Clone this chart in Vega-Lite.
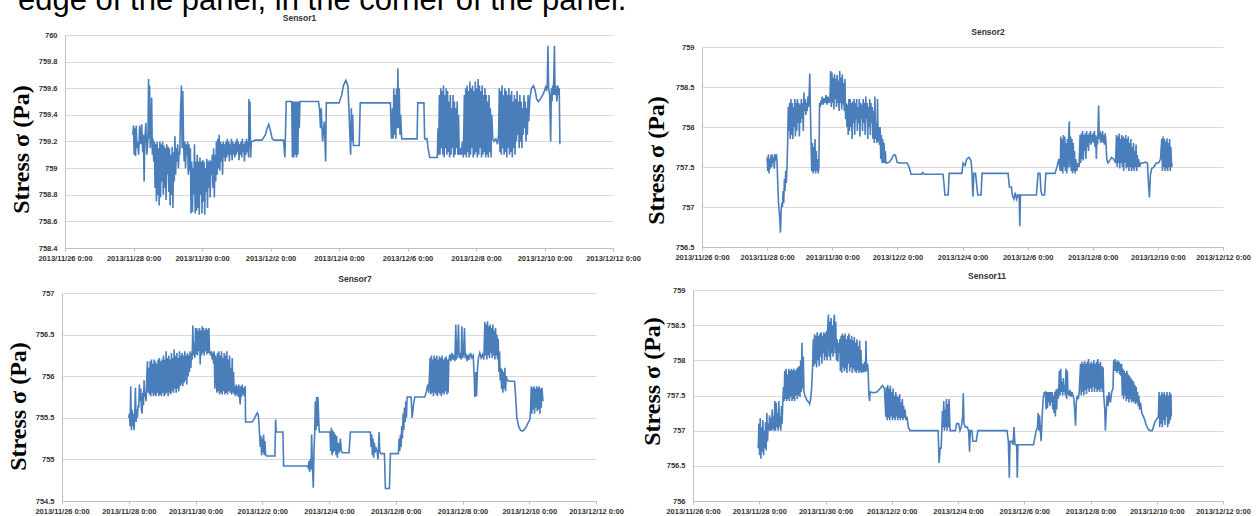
{
  "$schema": "https://vega.github.io/schema/vega-lite/v6.json",
  "background": "white",
  "padding": {"left": 6, "top": -16, "right": 0, "bottom": 0},
  "title": {"text": "edge of the panel, in the corner of the panel.", "anchor": "start", "frame": "bounds", "font": "Liberation Sans", "fontSize": 31, "fontWeight": "normal", "color": "#000000", "offset": -3, "dx": 12},
  "datasets": {
    "s1": [
      {"d":1.98,"v":759.25},{"d":2.00,"v":759.32},{"d":2.02,"v":759.10},{"d":2.04,"v":759.30},{"d":2.06,"v":759.09},{"d":2.08,"v":759.32},{"d":2.10,"v":759.15},{"d":2.12,"v":759.20},{"d":2.15,"v":759.10},{"d":2.18,"v":759.32},{"d":2.21,"v":759.18},{"d":2.24,"v":759.33},{"d":2.27,"v":759.12},{"d":2.29,"v":759.25},{"d":2.31,"v":758.90},{"d":2.33,"v":759.20},{"d":2.36,"v":759.34},{"d":2.39,"v":759.10},{"d":2.42,"v":759.20},{"d":2.44,"v":759.67},{"d":2.45,"v":759.22},{"d":2.47,"v":759.62},{"d":2.49,"v":759.15},{"d":2.51,"v":759.25},{"d":2.53,"v":759.53},{"d":2.55,"v":759.10},{"d":2.57,"v":759.22},{"d":2.59,"v":759.05},
      {"d":2.61,"v":759.20},{"d":2.63,"v":758.85},{"d":2.65,"v":759.18},{"d":2.67,"v":758.75},{"d":2.69,"v":759.20},{"d":2.71,"v":758.80},{"d":2.73,"v":759.15},{"d":2.75,"v":758.72},{"d":2.77,"v":759.20},{"d":2.79,"v":758.78},{"d":2.81,"v":759.18},{"d":2.83,"v":758.90},{"d":2.85,"v":759.20},{"d":2.87,"v":758.80},{"d":2.89,"v":759.17},{"d":2.91,"v":758.85},{"d":2.93,"v":759.15},{"d":2.95,"v":758.76},{"d":2.97,"v":759.18},{"d":2.99,"v":758.95},{"d":3.01,"v":759.16},{"d":3.03,"v":758.82},{"d":3.05,"v":759.15},{"d":3.07,"v":758.72},{"d":3.09,"v":759.10},{"d":3.11,"v":758.80},{"d":3.13,"v":759.16},{"d":3.15,"v":758.70},{"d":3.17,"v":759.12},{"d":3.19,"v":758.90},{"d":3.21,"v":759.24},{"d":3.23,"v":758.95},{"d":3.25,"v":759.15},{"d":3.27,"v":759.05},{"d":3.29,"v":759.18},{"d":3.31,"v":759.00},{"d":3.33,"v":759.12},{"d":3.35,"v":759.10},{"d":3.37,"v":759.40},{"d":3.40,"v":759.62},{"d":3.42,"v":759.15},{"d":3.44,"v":759.58},{"d":3.46,"v":759.20},
      {"d":3.48,"v":759.05},{"d":3.50,"v":759.20},{"d":3.52,"v":759.00},{"d":3.54,"v":759.18},{"d":3.56,"v":759.10},{"d":3.58,"v":759.20},{"d":3.60,"v":758.95},{"d":3.62,"v":759.18},{"d":3.64,"v":758.98},{"d":3.66,"v":759.15},
      {"d":3.68,"v":758.66},{"d":3.70,"v":759.05},{"d":3.72,"v":758.67},{"d":3.74,"v":759.00},{"d":3.76,"v":758.80},{"d":3.78,"v":759.18},{"d":3.80,"v":758.66},{"d":3.82,"v":759.05},{"d":3.84,"v":758.68},{"d":3.86,"v":759.10},{"d":3.88,"v":758.70},{"d":3.90,"v":759.05},{"d":3.92,"v":758.65},{"d":3.94,"v":759.08},{"d":3.96,"v":758.80},{"d":3.98,"v":759.05},{"d":4.00,"v":758.66},{"d":4.02,"v":759.06},{"d":4.04,"v":758.75},{"d":4.06,"v":759.05},{"d":4.08,"v":758.65},{"d":4.10,"v":759.00},{"d":4.12,"v":758.82},{"d":4.14,"v":759.07},{"d":4.16,"v":758.70},{"d":4.18,"v":759.05},{"d":4.20,"v":758.85},{"d":4.22,"v":759.06},{"d":4.24,"v":758.78},{"d":4.26,"v":759.05},{"d":4.28,"v":758.95},{"d":4.30,"v":759.10},{"d":4.32,"v":758.85},{"d":4.34,"v":759.15},{"d":4.36,"v":758.78},{"d":4.38,"v":759.10},{"d":4.40,"v":758.90},{"d":4.42,"v":759.20},{"d":4.44,"v":758.95},{"d":4.46,"v":759.22},{"d":4.48,"v":759.00},{"d":4.50,"v":759.25},{"d":4.52,"v":758.98},{"d":4.54,"v":759.20},{"d":4.56,"v":759.05},{"d":4.58,"v":759.18},{"d":4.60,"v":758.95},{"d":4.62,"v":759.20},{"d":4.64,"v":759.08},{"d":4.66,"v":759.18},{"d":4.68,"v":759.05},{"d":4.70,"v":759.20},{"d":4.72,"v":759.08},{"d":4.74,"v":759.22},{"d":4.76,"v":759.10},{"d":4.78,"v":759.20},{"d":4.80,"v":759.05},{"d":4.82,"v":759.18},{"d":4.84,"v":759.10},{"d":4.86,"v":759.22},{"d":4.88,"v":759.06},{"d":4.90,"v":759.20},{"d":4.92,"v":759.10},{"d":4.94,"v":759.18},{"d":4.96,"v":759.08},{"d":4.98,"v":759.20},{"d":5.00,"v":759.10},{"d":5.02,"v":759.22},{"d":5.04,"v":759.12},{"d":5.06,"v":759.20},{"d":5.08,"v":759.06},{"d":5.10,"v":759.18},{"d":5.12,"v":759.10},{"d":5.14,"v":759.20},{"d":5.16,"v":759.08},{"d":5.18,"v":759.22},{"d":5.20,"v":759.12},{"d":5.22,"v":759.18},{"d":5.24,"v":759.05},{"d":5.26,"v":759.20},{"d":5.28,"v":759.10},{"d":5.30,"v":759.22},{"d":5.32,"v":759.12},{"d":5.34,"v":759.20},{"d":5.36,"v":759.08},{"d":5.37,"v":759.52},{"d":5.38,"v":759.15},{"d":5.40,"v":759.50},{"d":5.42,"v":759.08},{"d":5.44,"v":759.20},{"d":5.47,"v":759.20},
      {"d":5.55,"v":759.21},{"d":5.75,"v":759.21},{"d":5.85,"v":759.25},{"d":5.90,"v":759.30},{"d":5.95,"v":759.33},{"d":6.00,"v":759.28},{"d":6.05,"v":759.22},{"d":6.10,"v":759.21},{"d":6.38,"v":759.21},{"d":6.42,"v":759.08},{"d":6.46,"v":759.50},{"d":6.62,"v":759.50},{"d":6.64,"v":759.08},{"d":6.66,"v":759.50},{"d":6.68,"v":759.08},{"d":6.70,"v":759.50},{"d":6.72,"v":759.10},{"d":6.74,"v":759.50},{"d":6.76,"v":759.08},{"d":6.78,"v":759.50},{"d":6.80,"v":759.10},{"d":6.82,"v":759.50},{"d":6.84,"v":759.30},{"d":6.86,"v":759.50},
      {"d":7.40,"v":759.50},{"d":7.43,"v":759.45},{"d":7.46,"v":759.30},{"d":7.48,"v":759.45},{"d":7.52,"v":759.20},{"d":7.57,"v":759.35},{"d":7.61,"v":759.05},{"d":7.63,"v":759.49},{"d":8.00,"v":759.49},{"d":8.08,"v":759.55},{"d":8.13,"v":759.62},{"d":8.20,"v":759.66},{"d":8.26,"v":759.62},{"d":8.29,"v":759.45},{"d":8.31,"v":759.30},{"d":8.34,"v":759.10},{"d":8.36,"v":759.45},{"d":8.38,"v":759.20},{"d":8.40,"v":759.40},{"d":8.42,"v":759.17},{"d":8.59,"v":759.17},{"d":8.62,"v":759.49},{"d":9.50,"v":759.49},{"d":9.53,"v":759.22},{"d":9.56,"v":759.45},{"d":9.58,"v":759.22},{"d":9.60,"v":759.60},{"d":9.62,"v":759.25},{"d":9.64,"v":759.55},{"d":9.66,"v":759.22},{"d":9.68,"v":759.60},{"d":9.70,"v":759.30},{"d":9.72,"v":759.75},{"d":9.74,"v":759.30},{"d":9.76,"v":759.60},{"d":9.78,"v":759.25},{"d":9.80,"v":759.40},{"d":9.83,"v":759.22},{"d":10.28,"v":759.22},{"d":10.30,"v":759.49},{"d":10.48,"v":759.49},{"d":10.50,"v":759.22},{"d":10.57,"v":759.22},{"d":10.60,"v":759.15},{"d":10.65,"v":759.08},{"d":10.87,"v":759.08},
      {"d":10.89,"v":759.30},{"d":10.91,"v":759.10},{"d":10.93,"v":759.55},{"d":10.95,"v":759.10},{"d":10.97,"v":759.60},{"d":10.99,"v":759.15},{"d":11.01,"v":759.58},{"d":11.03,"v":759.10},{"d":11.05,"v":759.62},{"d":11.07,"v":759.08},{"d":11.09,"v":759.55},{"d":11.11,"v":759.15},{"d":11.13,"v":759.60},{"d":11.15,"v":759.10},{"d":11.17,"v":759.58},{"d":11.19,"v":759.12},{"d":11.21,"v":759.50},{"d":11.23,"v":759.08},{"d":11.25,"v":759.55},{"d":11.27,"v":759.10},{"d":11.29,"v":759.45},{"d":11.31,"v":759.15},{"d":11.33,"v":759.55},{"d":11.35,"v":759.08},{"d":11.37,"v":759.50},{"d":11.39,"v":759.10},{"d":11.41,"v":759.45},{"d":11.43,"v":759.15},{"d":11.45,"v":759.50},{"d":11.47,"v":759.10},{"d":11.49,"v":759.40},{"d":11.51,"v":759.10},{"d":11.53,"v":759.15},{"d":11.57,"v":759.10},{"d":11.60,"v":759.20},{"d":11.63,"v":759.08},
      {"d":11.66,"v":759.55},{"d":11.68,"v":759.10},{"d":11.70,"v":759.60},{"d":11.72,"v":759.08},{"d":11.74,"v":759.62},{"d":11.76,"v":759.12},{"d":11.78,"v":759.58},{"d":11.80,"v":759.08},{"d":11.82,"v":759.65},{"d":11.84,"v":759.10},{"d":11.86,"v":759.60},{"d":11.88,"v":759.15},{"d":11.90,"v":759.62},{"d":11.92,"v":759.08},{"d":11.94,"v":759.58},{"d":11.96,"v":759.10},{"d":11.98,"v":759.65},{"d":12.00,"v":759.12},{"d":12.02,"v":759.60},{"d":12.04,"v":759.08},{"d":12.06,"v":759.67},{"d":12.08,"v":759.10},{"d":12.10,"v":759.62},{"d":12.12,"v":759.15},{"d":12.14,"v":759.58},{"d":12.16,"v":759.08},{"d":12.18,"v":759.62},{"d":12.20,"v":759.10},{"d":12.22,"v":759.55},{"d":12.24,"v":759.12},{"d":12.26,"v":759.60},{"d":12.28,"v":759.08},{"d":12.30,"v":759.55},{"d":12.32,"v":759.10},{"d":12.34,"v":759.50},{"d":12.36,"v":759.08},{"d":12.38,"v":759.55},{"d":12.40,"v":759.12},{"d":12.42,"v":759.45},{"d":12.44,"v":759.08},{"d":12.46,"v":759.40},{"d":12.49,"v":759.22},{"d":12.53,"v":759.20},{"d":12.58,"v":759.22},{"d":12.63,"v":759.18},{"d":12.66,"v":759.25},
      {"d":12.68,"v":759.60},{"d":12.70,"v":759.12},{"d":12.72,"v":759.58},{"d":12.74,"v":759.10},{"d":12.76,"v":759.62},{"d":12.78,"v":759.15},{"d":12.80,"v":759.55},{"d":12.82,"v":759.10},{"d":12.84,"v":759.60},{"d":12.86,"v":759.12},{"d":12.88,"v":759.58},{"d":12.90,"v":759.08},{"d":12.92,"v":759.55},{"d":12.94,"v":759.15},{"d":12.96,"v":759.60},{"d":12.98,"v":759.10},{"d":13.00,"v":759.55},{"d":13.02,"v":759.12},{"d":13.04,"v":759.58},{"d":13.06,"v":759.08},{"d":13.08,"v":759.50},{"d":13.10,"v":759.15},{"d":13.12,"v":759.55},{"d":13.14,"v":759.10},{"d":13.16,"v":759.52},{"d":13.18,"v":759.20},{"d":13.20,"v":759.58},{"d":13.22,"v":759.25},{"d":13.24,"v":759.50},{"d":13.26,"v":759.15},{"d":13.28,"v":759.55},{"d":13.30,"v":759.20},{"d":13.32,"v":759.50},{"d":13.34,"v":759.15},{"d":13.36,"v":759.45},{"d":13.38,"v":759.25},{"d":13.40,"v":759.55},{"d":13.42,"v":759.30},{"d":13.44,"v":759.50},{"d":13.46,"v":759.20},{"d":13.48,"v":759.45},{"d":13.50,"v":759.25},{"d":13.52,"v":759.55},{"d":13.54,"v":759.35},{"d":13.57,"v":759.52},{"d":13.62,"v":759.60},{"d":13.68,"v":759.62},{"d":13.73,"v":759.58},{"d":13.77,"v":759.52},{"d":13.82,"v":759.50},{"d":13.88,"v":759.52},{"d":13.95,"v":759.55},{"d":14.00,"v":759.58},{"d":14.04,"v":759.62},{"d":14.06,"v":759.58},{"d":14.08,"v":759.62},{"d":14.10,"v":759.92},{"d":14.12,"v":759.60},{"d":14.15,"v":759.55},{"d":14.18,"v":759.20},{"d":14.20,"v":759.60},{"d":14.22,"v":759.50},{"d":14.24,"v":759.62},{"d":14.26,"v":759.55},{"d":14.29,"v":759.92},{"d":14.31,"v":759.55},{"d":14.33,"v":759.62},{"d":14.36,"v":759.50},{"d":14.39,"v":759.62},{"d":14.41,"v":759.55},{"d":14.43,"v":759.60},{"d":14.45,"v":759.18}
    ],
    "s2": [
      {"d":2.00,"v":757.62},{"d":2.02,"v":757.45},{"d":2.04,"v":757.66},{"d":2.06,"v":757.42},{"d":2.08,"v":757.60},{"d":2.10,"v":757.48},{"d":2.12,"v":757.65},{"d":2.14,"v":757.50},{"d":2.16,"v":757.66},{"d":2.18,"v":757.55},{"d":2.20,"v":757.62},{"d":2.22,"v":757.48},{"d":2.24,"v":757.66},{"d":2.26,"v":757.58},{"d":2.29,"v":757.66},{"d":2.31,"v":757.50},{"d":2.33,"v":757.25},{"d":2.35,"v":757.05},{"d":2.38,"v":756.90},{"d":2.41,"v":756.68},{"d":2.43,"v":756.95},{"d":2.45,"v":757.05},{"d":2.47,"v":757.00},{"d":2.49,"v":757.20},{"d":2.51,"v":757.05},{"d":2.53,"v":757.35},{"d":2.55,"v":757.20},{"d":2.57,"v":757.45},{"d":2.59,"v":757.30},{"d":2.61,"v":757.50},{"d":2.63,"v":757.80},
      {"d":2.65,"v":758.25},{"d":2.67,"v":757.95},{"d":2.69,"v":758.30},{"d":2.71,"v":757.85},{"d":2.73,"v":758.35},{"d":2.75,"v":757.90},{"d":2.77,"v":758.30},{"d":2.79,"v":757.85},{"d":2.81,"v":758.25},{"d":2.83,"v":758.00},{"d":2.85,"v":758.35},{"d":2.87,"v":757.88},{"d":2.89,"v":758.30},{"d":2.91,"v":757.95},{"d":2.93,"v":758.35},{"d":2.95,"v":758.05},{"d":2.97,"v":758.30},{"d":2.99,"v":757.88},{"d":3.01,"v":758.28},{"d":3.03,"v":758.05},{"d":3.05,"v":758.35},{"d":3.07,"v":758.10},{"d":3.09,"v":758.30},{"d":3.11,"v":757.95},{"d":3.13,"v":758.43},{"d":3.15,"v":758.20},{"d":3.17,"v":758.35},{"d":3.19,"v":758.15},{"d":3.21,"v":758.30},{"d":3.23,"v":758.20},{"d":3.25,"v":758.38},{"d":3.27,"v":758.25},{"d":3.29,"v":758.40},{"d":3.31,"v":758.67},{"d":3.33,"v":758.20},
      {"d":3.35,"v":757.80},{"d":3.37,"v":757.45},{"d":3.39,"v":757.80},{"d":3.41,"v":757.42},{"d":3.43,"v":757.75},{"d":3.45,"v":757.45},{"d":3.47,"v":757.85},{"d":3.49,"v":757.42},{"d":3.51,"v":757.70},{"d":3.53,"v":757.45},{"d":3.55,"v":757.60},{"d":3.57,"v":757.42},{"d":3.59,"v":757.50},
      {"d":3.61,"v":758.30},{"d":3.63,"v":758.25},{"d":3.65,"v":758.33},{"d":3.67,"v":758.28},{"d":3.69,"v":758.38},{"d":3.72,"v":758.28},{"d":3.75,"v":758.36},{"d":3.78,"v":758.30},{"d":3.81,"v":758.40},{"d":3.84,"v":758.28},{"d":3.87,"v":758.38},{"d":3.90,"v":758.30},{"d":3.93,"v":758.35},{"d":3.95,"v":758.70},{"d":3.97,"v":758.25},{"d":3.99,"v":758.68},{"d":4.01,"v":758.30},{"d":4.03,"v":758.62},{"d":4.05,"v":758.22},{"d":4.07,"v":758.66},{"d":4.09,"v":758.35},{"d":4.11,"v":758.60},{"d":4.13,"v":758.25},{"d":4.15,"v":758.65},{"d":4.17,"v":758.30},{"d":4.19,"v":758.58},{"d":4.21,"v":758.20},{"d":4.23,"v":758.70},{"d":4.25,"v":758.30},{"d":4.27,"v":758.62},{"d":4.29,"v":758.22},{"d":4.31,"v":758.66},{"d":4.33,"v":758.28},{"d":4.35,"v":758.55},{"d":4.37,"v":758.20},{"d":4.39,"v":758.60},{"d":4.41,"v":758.10},{"d":4.43,"v":758.30},
      {"d":4.45,"v":758.00},{"d":4.47,"v":758.28},{"d":4.49,"v":757.90},{"d":4.51,"v":758.35},{"d":4.53,"v":757.95},{"d":4.55,"v":758.35},{"d":4.57,"v":758.00},{"d":4.59,"v":758.30},{"d":4.61,"v":757.85},{"d":4.63,"v":758.32},{"d":4.65,"v":758.05},{"d":4.67,"v":758.35},{"d":4.69,"v":757.90},{"d":4.71,"v":758.30},{"d":4.73,"v":758.10},{"d":4.75,"v":758.35},{"d":4.77,"v":757.95},{"d":4.79,"v":758.25},{"d":4.81,"v":758.05},{"d":4.83,"v":758.35},{"d":4.85,"v":757.88},{"d":4.87,"v":758.30},{"d":4.89,"v":758.10},{"d":4.91,"v":758.28},{"d":4.93,"v":757.95},{"d":4.95,"v":758.35},{"d":4.97,"v":758.05},{"d":4.99,"v":758.30},{"d":5.01,"v":757.90},{"d":5.03,"v":758.38},{"d":5.05,"v":758.10},{"d":5.07,"v":758.30},{"d":5.09,"v":757.85},{"d":5.11,"v":758.25},{"d":5.13,"v":758.00},{"d":5.15,"v":758.35},{"d":5.17,"v":757.90},{"d":5.19,"v":758.30},{"d":5.21,"v":758.05},{"d":5.23,"v":758.25},{"d":5.25,"v":757.85},{"d":5.27,"v":758.20},{"d":5.29,"v":757.80},{"d":5.31,"v":758.38},{"d":5.33,"v":757.85},{"d":5.35,"v":758.05},{"d":5.37,"v":757.80},{"d":5.39,"v":758.35},{"d":5.41,"v":757.82},{"d":5.43,"v":758.00},{"d":5.45,"v":757.78},{"d":5.47,"v":758.00},{"d":5.49,"v":757.60},{"d":5.51,"v":757.90},{"d":5.53,"v":757.55},{"d":5.55,"v":757.85},{"d":5.57,"v":757.55},{"d":5.59,"v":757.80},{"d":5.61,"v":757.55},{"d":5.63,"v":757.70},{"d":5.65,"v":757.55},
      {"d":5.68,"v":757.55},{"d":5.75,"v":757.56},{"d":5.82,"v":757.60},{"d":5.88,"v":757.65},{"d":5.94,"v":757.65},{"d":5.99,"v":757.56},{"d":6.05,"v":757.55},{"d":6.30,"v":757.55},{"d":6.36,"v":757.50},{"d":6.42,"v":757.41},{"d":6.75,"v":757.41},{"d":6.78,"v":757.43},{"d":6.82,"v":757.41},{"d":7.40,"v":757.41},{"d":7.43,"v":757.30},{"d":7.46,"v":757.15},{"d":7.56,"v":757.15},{"d":7.59,"v":757.42},{"d":7.98,"v":757.42},{"d":8.02,"v":757.55},{"d":8.08,"v":757.52},{"d":8.13,"v":757.60},{"d":8.20,"v":757.62},{"d":8.26,"v":757.58},{"d":8.29,"v":757.45},{"d":8.32,"v":757.13},{"d":8.35,"v":757.42},{"d":8.40,"v":757.42},{"d":8.43,"v":757.30},{"d":8.47,"v":757.15},{"d":8.57,"v":757.15},{"d":8.60,"v":757.42},{"d":9.40,"v":757.42},{"d":9.44,"v":757.25},{"d":9.50,"v":757.25},{"d":9.53,"v":757.15},{"d":9.58,"v":757.10},{"d":9.62,"v":757.18},{"d":9.66,"v":757.10},{"d":9.70,"v":757.15},{"d":9.74,"v":757.15},{"d":9.76,"v":756.76},{"d":9.78,"v":757.15},{"d":10.27,"v":757.15},{"d":10.32,"v":757.42},{"d":10.38,"v":757.42},{"d":10.41,"v":757.20},{"d":10.44,"v":757.15},{"d":10.52,"v":757.15},{"d":10.56,"v":757.42},{"d":10.84,"v":757.42},{"d":10.90,"v":757.50},{"d":10.96,"v":757.60},
      {"d":11.00,"v":757.45},{"d":11.02,"v":757.88},{"d":11.04,"v":757.45},{"d":11.06,"v":757.85},{"d":11.08,"v":757.42},{"d":11.10,"v":757.90},{"d":11.12,"v":757.50},{"d":11.14,"v":757.88},{"d":11.16,"v":757.45},{"d":11.18,"v":757.80},{"d":11.20,"v":757.42},{"d":11.22,"v":757.85},{"d":11.24,"v":757.48},{"d":11.26,"v":757.90},{"d":11.28,"v":758.07},{"d":11.30,"v":757.50},{"d":11.32,"v":757.88},{"d":11.34,"v":757.45},{"d":11.36,"v":757.85},{"d":11.38,"v":757.42},{"d":11.40,"v":757.80},{"d":11.42,"v":757.45},{"d":11.44,"v":757.70},{"d":11.46,"v":757.42},{"d":11.48,"v":757.60},{"d":11.51,"v":757.45},{"d":11.54,"v":757.55},{"d":11.58,"v":757.50},
      {"d":11.61,"v":757.90},{"d":11.63,"v":757.55},{"d":11.65,"v":757.92},{"d":11.67,"v":757.60},{"d":11.69,"v":757.95},{"d":11.71,"v":757.58},{"d":11.73,"v":757.90},{"d":11.75,"v":757.70},{"d":11.77,"v":757.92},{"d":11.79,"v":757.60},{"d":11.81,"v":757.95},{"d":11.83,"v":757.75},{"d":11.85,"v":757.90},{"d":11.87,"v":757.70},{"d":11.89,"v":757.92},{"d":11.91,"v":757.80},{"d":11.93,"v":757.95},{"d":11.95,"v":757.78},{"d":11.97,"v":757.90},{"d":11.99,"v":757.82},{"d":12.01,"v":757.92},{"d":12.03,"v":757.80},{"d":12.05,"v":757.95},{"d":12.07,"v":757.75},{"d":12.09,"v":757.90},{"d":12.11,"v":757.60},{"d":12.13,"v":757.88},{"d":12.15,"v":757.78},{"d":12.18,"v":758.27},{"d":12.20,"v":757.85},{"d":12.22,"v":757.95},{"d":12.24,"v":757.80},{"d":12.26,"v":757.92},{"d":12.28,"v":757.82},{"d":12.30,"v":757.95},{"d":12.32,"v":757.80},{"d":12.34,"v":757.90},{"d":12.36,"v":757.78},{"d":12.38,"v":757.92},{"d":12.40,"v":757.85},{"d":12.43,"v":757.60},{"d":12.47,"v":757.55},{"d":12.52,"v":757.58},{"d":12.58,"v":757.62},{"d":12.64,"v":757.60},{"d":12.70,"v":757.55},
      {"d":12.73,"v":757.90},{"d":12.75,"v":757.50},{"d":12.77,"v":757.88},{"d":12.79,"v":757.55},{"d":12.81,"v":757.92},{"d":12.83,"v":757.48},{"d":12.85,"v":757.85},{"d":12.87,"v":757.55},{"d":12.89,"v":757.90},{"d":12.91,"v":757.50},{"d":12.93,"v":757.88},{"d":12.95,"v":757.45},{"d":12.97,"v":757.86},{"d":12.99,"v":757.55},{"d":13.01,"v":757.90},{"d":13.03,"v":757.48},{"d":13.05,"v":757.85},{"d":13.07,"v":757.50},{"d":13.09,"v":757.88},{"d":13.11,"v":757.45},{"d":13.13,"v":757.80},{"d":13.15,"v":757.50},{"d":13.17,"v":757.85},{"d":13.19,"v":757.45},{"d":13.21,"v":757.75},{"d":13.23,"v":757.48},{"d":13.25,"v":757.80},{"d":13.27,"v":757.45},{"d":13.29,"v":757.70},{"d":13.31,"v":757.50},{"d":13.33,"v":757.78},{"d":13.35,"v":757.45},{"d":13.37,"v":757.65},{"d":13.39,"v":757.50},{"d":13.41,"v":757.60},{"d":13.44,"v":757.50},{"d":13.48,"v":757.55},{"d":13.55,"v":757.55},{"d":13.62,"v":757.56},{"d":13.68,"v":757.55},{"d":13.71,"v":757.30},{"d":13.74,"v":757.12},{"d":13.77,"v":757.40},{"d":13.81,"v":757.48},{"d":13.88,"v":757.50},{"d":13.95,"v":757.55},{"d":14.02,"v":757.55},{"d":14.08,"v":757.60},
      {"d":14.12,"v":757.85},{"d":14.14,"v":757.45},{"d":14.16,"v":757.88},{"d":14.18,"v":757.50},{"d":14.20,"v":757.85},{"d":14.22,"v":757.45},{"d":14.24,"v":757.82},{"d":14.26,"v":757.48},{"d":14.28,"v":757.86},{"d":14.30,"v":757.45},{"d":14.32,"v":757.80},{"d":14.34,"v":757.50},{"d":14.36,"v":757.85},{"d":14.38,"v":757.45},{"d":14.40,"v":757.75},{"d":14.42,"v":757.50},{"d":14.44,"v":757.55}
    ],
    "s7": [
      {"d":2.00,"v":755.50},{"d":2.02,"v":755.55},{"d":2.04,"v":755.40},{"d":2.06,"v":755.88},{"d":2.08,"v":755.35},{"d":2.10,"v":755.60},{"d":2.12,"v":755.40},{"d":2.14,"v":755.55},{"d":2.16,"v":755.35},{"d":2.18,"v":755.58},{"d":2.20,"v":755.86},{"d":2.22,"v":755.45},{"d":2.24,"v":755.60},{"d":2.26,"v":755.50},{"d":2.28,"v":755.65},{"d":2.30,"v":755.62},{"d":2.32,"v":755.90},{"d":2.34,"v":755.70},{"d":2.36,"v":755.85},{"d":2.38,"v":755.60},{"d":2.40,"v":755.55},{"d":2.42,"v":755.80},{"d":2.44,"v":755.65},{"d":2.46,"v":755.95},{"d":2.48,"v":755.75},{"d":2.50,"v":755.80},{"d":2.52,"v":755.70},{"d":2.54,"v":755.98},{"d":2.56,"v":756.18},{"d":2.58,"v":755.80},{"d":2.60,"v":756.10},
      {"d":2.62,"v":755.78},{"d":2.64,"v":756.18},{"d":2.66,"v":755.76},{"d":2.68,"v":756.20},{"d":2.70,"v":755.80},{"d":2.72,"v":756.15},{"d":2.74,"v":755.76},{"d":2.76,"v":756.20},{"d":2.78,"v":755.78},{"d":2.80,"v":756.18},{"d":2.82,"v":755.76},{"d":2.84,"v":756.15},{"d":2.86,"v":755.80},{"d":2.88,"v":756.20},{"d":2.90,"v":755.76},{"d":2.92,"v":756.22},{"d":2.94,"v":755.78},{"d":2.96,"v":756.18},{"d":2.98,"v":755.76},{"d":3.00,"v":756.20},{"d":3.02,"v":755.80},{"d":3.04,"v":756.25},{"d":3.06,"v":755.76},{"d":3.08,"v":756.20},{"d":3.10,"v":755.78},{"d":3.12,"v":756.30},{"d":3.14,"v":755.80},{"d":3.16,"v":756.22},{"d":3.18,"v":755.76},{"d":3.20,"v":756.25},{"d":3.22,"v":755.80},{"d":3.24,"v":756.20},{"d":3.26,"v":755.78},{"d":3.28,"v":756.28},{"d":3.30,"v":755.82},{"d":3.32,"v":756.22},{"d":3.34,"v":755.80},{"d":3.36,"v":756.32},{"d":3.38,"v":755.85},{"d":3.40,"v":756.25},{"d":3.42,"v":755.80},{"d":3.44,"v":756.28},{"d":3.46,"v":755.85},{"d":3.48,"v":756.22},{"d":3.50,"v":755.82},{"d":3.52,"v":756.30},{"d":3.54,"v":755.88},{"d":3.56,"v":756.25},{"d":3.58,"v":755.90},{"d":3.60,"v":756.28},{"d":3.62,"v":755.88},{"d":3.64,"v":756.25},{"d":3.66,"v":755.92},{"d":3.68,"v":756.30},{"d":3.70,"v":755.95},{"d":3.72,"v":756.25},{"d":3.74,"v":755.90},{"d":3.76,"v":756.28},{"d":3.78,"v":756.00},{"d":3.80,"v":756.25},{"d":3.82,"v":756.05},{"d":3.84,"v":756.30},{"d":3.86,"v":756.10},{"d":3.88,"v":756.28},{"d":3.90,"v":756.20},
      {"d":3.92,"v":756.61},{"d":3.94,"v":756.25},{"d":3.96,"v":756.40},{"d":3.98,"v":756.22},{"d":4.00,"v":756.58},{"d":4.02,"v":756.26},{"d":4.04,"v":756.58},{"d":4.06,"v":756.25},{"d":4.08,"v":756.55},{"d":4.10,"v":756.30},{"d":4.12,"v":756.58},{"d":4.14,"v":756.14},{"d":4.16,"v":756.55},{"d":4.18,"v":756.25},{"d":4.20,"v":756.60},{"d":4.22,"v":756.28},{"d":4.24,"v":756.58},{"d":4.26,"v":756.25},{"d":4.28,"v":756.55},{"d":4.30,"v":756.30},{"d":4.32,"v":756.58},{"d":4.34,"v":756.26},{"d":4.36,"v":756.56},{"d":4.38,"v":756.28},{"d":4.40,"v":756.58},{"d":4.42,"v":756.30},{"d":4.45,"v":756.25},{"d":4.48,"v":756.30},{"d":4.50,"v":756.20},{"d":4.52,"v":756.28},{"d":4.54,"v":756.15},{"d":4.56,"v":756.30},{"d":4.58,"v":755.85},{"d":4.60,"v":756.25},{"d":4.62,"v":756.15},
      {"d":4.64,"v":755.80},{"d":4.66,"v":756.28},{"d":4.68,"v":755.82},{"d":4.70,"v":756.30},{"d":4.72,"v":755.78},{"d":4.74,"v":756.25},{"d":4.76,"v":755.80},{"d":4.78,"v":756.30},{"d":4.80,"v":755.78},{"d":4.82,"v":756.22},{"d":4.84,"v":755.82},{"d":4.86,"v":756.28},{"d":4.88,"v":755.78},{"d":4.90,"v":756.25},{"d":4.92,"v":755.80},{"d":4.94,"v":756.30},{"d":4.96,"v":755.78},{"d":4.98,"v":756.20},{"d":5.00,"v":755.82},{"d":5.02,"v":756.25},{"d":5.04,"v":755.80},{"d":5.06,"v":756.10},{"d":5.08,"v":755.78},{"d":5.10,"v":756.22},{"d":5.12,"v":755.80},{"d":5.14,"v":756.05},{"d":5.16,"v":755.78},{"d":5.18,"v":755.88},{"d":5.20,"v":755.76},{"d":5.22,"v":755.90},{"d":5.24,"v":755.78},{"d":5.26,"v":755.88},{"d":5.28,"v":755.75},{"d":5.30,"v":755.90},{"d":5.32,"v":755.76},{"d":5.34,"v":755.66},{"d":5.36,"v":755.88},{"d":5.38,"v":755.75},{"d":5.40,"v":755.90},{"d":5.42,"v":755.78},{"d":5.44,"v":755.86},{"d":5.46,"v":755.76},{"d":5.49,"v":755.88},
      {"d":5.50,"v":755.45},{"d":5.70,"v":755.45},{"d":5.75,"v":755.48},{"d":5.80,"v":755.52},{"d":5.85,"v":755.56},{"d":5.88,"v":755.54},{"d":5.90,"v":755.45},{"d":5.92,"v":755.30},{"d":5.94,"v":755.15},{"d":5.96,"v":755.28},{"d":5.98,"v":755.05},{"d":6.00,"v":755.25},{"d":6.02,"v":755.08},{"d":6.04,"v":755.30},{"d":6.06,"v":755.05},{"d":6.08,"v":755.22},{"d":6.10,"v":755.06},{"d":6.13,"v":755.04},{"d":6.38,"v":755.04},{"d":6.40,"v":755.48},{"d":6.42,"v":755.33},{"d":6.62,"v":755.33},{"d":6.64,"v":754.92},{"d":7.35,"v":754.92},{"d":7.38,"v":754.90},{"d":7.40,"v":754.98},{"d":7.42,"v":754.85},{"d":7.44,"v":755.00},{"d":7.46,"v":754.88},{"d":7.48,"v":755.30},{"d":7.50,"v":754.95},{"d":7.53,"v":754.66},{"d":7.55,"v":755.10},{"d":7.57,"v":755.30},{"d":7.59,"v":755.70},{"d":7.61,"v":755.35},{"d":7.63,"v":755.75},{"d":7.65,"v":755.40},{"d":7.67,"v":755.75},{"d":7.69,"v":755.50},{"d":7.71,"v":755.33},{"d":8.03,"v":755.33},
      {"d":8.05,"v":755.10},{"d":8.07,"v":755.38},{"d":8.09,"v":755.05},{"d":8.11,"v":755.35},{"d":8.13,"v":755.08},{"d":8.15,"v":755.33},{"d":8.17,"v":755.10},{"d":8.19,"v":755.30},{"d":8.21,"v":755.05},{"d":8.23,"v":755.28},{"d":8.25,"v":755.02},{"d":8.28,"v":755.20},{"d":8.31,"v":755.08},{"d":8.34,"v":755.25},{"d":8.37,"v":755.10},{"d":8.40,"v":755.08},{"d":8.60,"v":755.08},{"d":8.64,"v":755.33},{"d":9.24,"v":755.33},{"d":9.26,"v":755.15},{"d":9.28,"v":755.30},{"d":9.30,"v":755.05},{"d":9.32,"v":755.25},{"d":9.34,"v":755.02},{"d":9.36,"v":755.20},{"d":9.38,"v":755.08},{"d":9.40,"v":755.15},{"d":9.44,"v":755.10},{"d":9.47,"v":755.00},{"d":9.50,"v":755.33},{"d":9.52,"v":755.10},{"d":9.55,"v":755.07},{"d":9.66,"v":755.07},{"d":9.69,"v":754.65},{"d":9.81,"v":754.65},{"d":9.84,"v":755.07},{"d":10.08,"v":755.07},
      {"d":10.10,"v":755.25},{"d":10.12,"v":755.10},{"d":10.14,"v":755.30},{"d":10.16,"v":755.15},{"d":10.18,"v":755.40},{"d":10.20,"v":755.25},{"d":10.22,"v":755.55},{"d":10.24,"v":755.35},{"d":10.26,"v":755.62},{"d":10.28,"v":755.45},{"d":10.30,"v":755.70},{"d":10.32,"v":755.50},{"d":10.34,"v":755.75},{"d":10.46,"v":755.75},{"d":10.49,"v":755.50},{"d":10.53,"v":755.65},{"d":10.57,"v":755.75},{"d":10.87,"v":755.75},{"d":10.92,"v":755.82},{"d":10.96,"v":755.90},{"d":10.99,"v":755.80},
      {"d":11.03,"v":756.22},{"d":11.05,"v":755.78},{"d":11.07,"v":756.25},{"d":11.09,"v":755.80},{"d":11.11,"v":756.20},{"d":11.13,"v":755.76},{"d":11.15,"v":756.25},{"d":11.17,"v":755.80},{"d":11.19,"v":756.22},{"d":11.21,"v":755.78},{"d":11.23,"v":756.25},{"d":11.25,"v":755.76},{"d":11.27,"v":756.20},{"d":11.29,"v":755.80},{"d":11.31,"v":756.24},{"d":11.33,"v":755.78},{"d":11.35,"v":756.22},{"d":11.37,"v":755.76},{"d":11.39,"v":756.25},{"d":11.41,"v":755.80},{"d":11.43,"v":756.20},{"d":11.45,"v":755.78},{"d":11.47,"v":756.22},{"d":11.49,"v":755.82},{"d":11.51,"v":756.24},{"d":11.53,"v":755.78},{"d":11.55,"v":756.20},{"d":11.57,"v":755.80},{"d":11.59,"v":756.18},
      {"d":11.62,"v":756.26},{"d":11.65,"v":756.18},{"d":11.68,"v":756.28},{"d":11.71,"v":756.20},{"d":11.74,"v":756.26},{"d":11.77,"v":756.18},{"d":11.80,"v":756.62},{"d":11.82,"v":756.20},{"d":11.85,"v":756.28},{"d":11.88,"v":756.62},{"d":11.90,"v":756.22},{"d":11.93,"v":756.28},{"d":11.96,"v":756.20},{"d":11.98,"v":756.60},{"d":12.00,"v":756.22},{"d":12.03,"v":756.26},{"d":12.06,"v":756.58},{"d":12.08,"v":756.22},{"d":12.11,"v":756.25},{"d":12.14,"v":756.18},{"d":12.17,"v":756.26},{"d":12.20,"v":756.20},{"d":12.24,"v":756.28},{"d":12.28,"v":756.22},{"d":12.32,"v":756.25},{"d":12.35,"v":756.00},{"d":12.37,"v":755.75},{"d":12.40,"v":756.05},{"d":12.42,"v":755.76},{"d":12.45,"v":756.10},{"d":12.48,"v":756.22},{"d":12.52,"v":756.28},{"d":12.56,"v":756.22},{"d":12.60,"v":756.26},{"d":12.64,"v":756.20},
      {"d":12.67,"v":756.65},{"d":12.69,"v":756.25},{"d":12.71,"v":756.62},{"d":12.73,"v":756.20},{"d":12.75,"v":756.66},{"d":12.77,"v":756.25},{"d":12.79,"v":756.60},{"d":12.81,"v":756.22},{"d":12.83,"v":756.62},{"d":12.85,"v":756.28},{"d":12.87,"v":756.58},{"d":12.89,"v":756.22},{"d":12.91,"v":756.62},{"d":12.93,"v":756.25},{"d":12.95,"v":756.55},{"d":12.97,"v":756.20},{"d":12.99,"v":756.58},{"d":13.01,"v":756.25},{"d":13.03,"v":756.50},{"d":13.05,"v":756.20},{"d":13.07,"v":756.45},{"d":13.09,"v":756.05},{"d":13.11,"v":756.30},{"d":13.13,"v":755.95},{"d":13.15,"v":756.10},{"d":13.17,"v":755.85},{"d":13.19,"v":756.08},{"d":13.21,"v":755.80},{"d":13.23,"v":756.05},{"d":13.25,"v":755.85},{"d":13.27,"v":756.10},{"d":13.29,"v":755.82},{"d":13.31,"v":756.00},{"d":13.34,"v":755.95},{"d":13.42,"v":755.94},{"d":13.56,"v":755.94},{"d":13.60,"v":755.70},{"d":13.63,"v":755.50},{"d":13.68,"v":755.40},{"d":13.74,"v":755.35},{"d":13.80,"v":755.34},{"d":13.86,"v":755.36},{"d":13.92,"v":755.40},{"d":13.98,"v":755.45},{"d":14.02,"v":755.48},{"d":14.04,"v":755.60},
      {"d":14.06,"v":755.88},{"d":14.08,"v":755.55},{"d":14.10,"v":755.86},{"d":14.12,"v":755.60},{"d":14.14,"v":755.88},{"d":14.16,"v":755.55},{"d":14.18,"v":755.85},{"d":14.20,"v":755.62},{"d":14.22,"v":755.88},{"d":14.24,"v":755.58},{"d":14.26,"v":755.86},{"d":14.28,"v":755.60},{"d":14.30,"v":755.88},{"d":14.32,"v":755.55},{"d":14.34,"v":755.85},{"d":14.36,"v":755.62},{"d":14.38,"v":755.86},{"d":14.41,"v":755.70}
    ],
    "s11": [
      {"d":1.97,"v":756.75},{"d":1.99,"v":757.10},{"d":2.01,"v":756.65},{"d":2.03,"v":757.18},{"d":2.05,"v":756.60},{"d":2.07,"v":757.05},{"d":2.09,"v":756.70},{"d":2.11,"v":757.15},{"d":2.13,"v":756.65},{"d":2.15,"v":757.00},{"d":2.17,"v":756.75},{"d":2.19,"v":757.12},{"d":2.21,"v":756.72},{"d":2.23,"v":757.25},{"d":2.25,"v":756.85},{"d":2.27,"v":757.10},{"d":2.29,"v":757.00},{"d":2.31,"v":757.22},{"d":2.33,"v":757.00},{"d":2.35,"v":757.18},{"d":2.37,"v":757.00},{"d":2.39,"v":757.30},{"d":2.41,"v":757.02},{"d":2.43,"v":757.20},{"d":2.45,"v":757.00},{"d":2.47,"v":757.42},{"d":2.49,"v":757.00},{"d":2.51,"v":757.40},{"d":2.53,"v":757.05},{"d":2.55,"v":757.25},{"d":2.57,"v":757.00},{"d":2.59,"v":757.42},{"d":2.61,"v":757.05},{"d":2.63,"v":757.20},{"d":2.65,"v":757.00},{"d":2.67,"v":757.35},{"d":2.69,"v":757.10},{"d":2.71,"v":757.40},{"d":2.73,"v":757.62},
      {"d":2.75,"v":757.42},{"d":2.77,"v":757.85},{"d":2.79,"v":757.45},{"d":2.81,"v":757.88},{"d":2.83,"v":757.42},{"d":2.85,"v":757.80},{"d":2.87,"v":757.45},{"d":2.89,"v":757.88},{"d":2.91,"v":757.42},{"d":2.93,"v":757.85},{"d":2.95,"v":757.48},{"d":2.97,"v":757.88},{"d":2.99,"v":757.42},{"d":3.01,"v":757.86},{"d":3.03,"v":757.45},{"d":3.05,"v":757.88},{"d":3.07,"v":757.42},{"d":3.09,"v":757.85},{"d":3.11,"v":757.50},{"d":3.13,"v":757.88},{"d":3.15,"v":757.45},{"d":3.17,"v":757.90},{"d":3.19,"v":757.50},{"d":3.21,"v":757.92},{"d":3.23,"v":757.48},{"d":3.25,"v":758.00},{"d":3.27,"v":757.55},{"d":3.29,"v":758.25},{"d":3.31,"v":757.60},{"d":3.33,"v":758.05},{"d":3.35,"v":757.55},{"d":3.38,"v":757.50},{"d":3.42,"v":757.45},{"d":3.46,"v":757.42},{"d":3.50,"v":757.40},{"d":3.52,"v":757.38},{"d":3.55,"v":757.45},{"d":3.58,"v":757.60},
      {"d":3.61,"v":757.90},{"d":3.63,"v":758.30},{"d":3.65,"v":757.92},{"d":3.67,"v":758.37},{"d":3.69,"v":757.95},{"d":3.71,"v":758.35},{"d":3.73,"v":757.90},{"d":3.75,"v":758.40},{"d":3.77,"v":758.00},{"d":3.79,"v":758.35},{"d":3.81,"v":757.92},{"d":3.83,"v":758.38},{"d":3.85,"v":758.05},{"d":3.87,"v":758.40},{"d":3.89,"v":757.95},{"d":3.91,"v":758.35},{"d":3.93,"v":758.10},{"d":3.95,"v":758.40},{"d":3.97,"v":758.00},{"d":3.99,"v":758.38},{"d":4.01,"v":758.05},{"d":4.03,"v":758.42},{"d":4.05,"v":758.00},{"d":4.07,"v":758.50},{"d":4.09,"v":758.65},{"d":4.11,"v":758.05},{"d":4.13,"v":758.55},{"d":4.15,"v":758.00},{"d":4.17,"v":758.60},{"d":4.19,"v":758.10},{"d":4.21,"v":758.50},{"d":4.23,"v":758.05},{"d":4.25,"v":758.55},{"d":4.27,"v":758.65},{"d":4.29,"v":758.10},{"d":4.31,"v":758.55},{"d":4.33,"v":758.00},{"d":4.35,"v":758.30},{"d":4.37,"v":757.98},{"d":4.39,"v":758.25},{"d":4.41,"v":758.10},{"d":4.43,"v":758.30},
      {"d":4.45,"v":757.85},{"d":4.47,"v":758.35},{"d":4.49,"v":757.82},{"d":4.51,"v":758.38},{"d":4.53,"v":757.90},{"d":4.55,"v":758.35},{"d":4.57,"v":757.84},{"d":4.59,"v":758.38},{"d":4.61,"v":757.88},{"d":4.63,"v":758.30},{"d":4.65,"v":757.82},{"d":4.67,"v":758.35},{"d":4.69,"v":757.95},{"d":4.71,"v":758.38},{"d":4.73,"v":757.84},{"d":4.75,"v":758.30},{"d":4.77,"v":757.90},{"d":4.79,"v":758.35},{"d":4.81,"v":757.82},{"d":4.83,"v":758.28},{"d":4.85,"v":757.88},{"d":4.87,"v":758.33},{"d":4.89,"v":757.84},{"d":4.91,"v":758.25},{"d":4.93,"v":757.82},{"d":4.95,"v":758.30},{"d":4.97,"v":757.86},{"d":4.99,"v":758.20},{"d":5.01,"v":757.82},{"d":5.03,"v":758.28},{"d":5.05,"v":757.84},{"d":5.07,"v":758.15},{"d":5.09,"v":757.82},{"d":5.12,"v":757.95},{"d":5.15,"v":757.83},{"d":5.18,"v":757.98},{"d":5.21,"v":757.83},{"d":5.22,"v":758.28},{"d":5.24,"v":757.85},{"d":5.27,"v":757.95},{"d":5.29,"v":757.82},{"d":5.31,"v":757.52},{"d":5.33,"v":757.42},{"d":5.35,"v":757.55},{"d":5.45,"v":757.54},{"d":5.55,"v":757.55},{"d":5.65,"v":757.60},{"d":5.72,"v":757.64},{"d":5.78,"v":757.60},
      {"d":5.82,"v":757.20},{"d":5.84,"v":757.62},{"d":5.86,"v":757.15},{"d":5.88,"v":757.65},{"d":5.90,"v":757.18},{"d":5.92,"v":757.60},{"d":5.94,"v":757.15},{"d":5.96,"v":757.64},{"d":5.98,"v":757.20},{"d":6.00,"v":757.55},{"d":6.02,"v":757.15},{"d":6.04,"v":757.60},{"d":6.06,"v":757.18},{"d":6.08,"v":757.50},{"d":6.10,"v":757.15},{"d":6.12,"v":757.55},{"d":6.14,"v":757.20},{"d":6.16,"v":757.50},{"d":6.18,"v":757.15},{"d":6.20,"v":757.48},{"d":6.22,"v":757.18},{"d":6.24,"v":757.52},{"d":6.26,"v":757.15},{"d":6.28,"v":757.40},{"d":6.30,"v":757.18},{"d":6.32,"v":757.45},{"d":6.34,"v":757.15},{"d":6.36,"v":757.35},{"d":6.38,"v":757.18},{"d":6.40,"v":757.30},{"d":6.43,"v":757.15},{"d":6.46,"v":757.20},{"d":6.50,"v":757.05},{"d":6.55,"v":757.00},
      {"d":7.40,"v":757.00},{"d":7.43,"v":756.54},{"d":7.46,"v":756.75},{"d":7.49,"v":756.75},{"d":7.51,"v":757.00},{"d":7.53,"v":757.28},{"d":7.55,"v":757.05},{"d":7.57,"v":757.42},{"d":7.59,"v":757.00},{"d":7.61,"v":757.30},{"d":7.63,"v":757.05},{"d":7.65,"v":757.45},{"d":7.67,"v":757.00},{"d":7.69,"v":757.38},{"d":7.71,"v":757.05},{"d":7.73,"v":757.45},{"d":7.76,"v":757.00},{"d":7.92,"v":757.00},{"d":7.96,"v":757.10},{"d":8.02,"v":757.10},{"d":8.06,"v":757.00},{"d":8.10,"v":757.05},{"d":8.14,"v":757.20},{"d":8.16,"v":757.53},{"d":8.18,"v":757.10},{"d":8.22,"v":757.05},{"d":8.28,"v":757.05},{"d":8.32,"v":757.00},{"d":8.35,"v":756.70},{"d":8.37,"v":757.00},{"d":8.42,"v":757.00},{"d":8.45,"v":756.85},{"d":8.55,"v":756.85},{"d":8.60,"v":757.00},{"d":9.48,"v":757.00},{"d":9.52,"v":756.85},{"d":9.55,"v":756.33},{"d":9.57,"v":756.85},{"d":9.62,"v":756.85},{"d":9.66,"v":756.80},{"d":9.69,"v":757.05},{"d":9.72,"v":756.80},{"d":9.77,"v":756.80},{"d":9.79,"v":756.33},{"d":9.81,"v":756.80},{"d":10.28,"v":756.80},{"d":10.32,"v":756.90},{"d":10.36,"v":757.00},{"d":10.40,"v":757.05},{"d":10.42,"v":757.25},{"d":10.44,"v":757.00},{"d":10.46,"v":757.22},{"d":10.48,"v":757.05},{"d":10.51,"v":756.85},{"d":10.54,"v":757.20},{"d":10.57,"v":757.45},
      {"d":10.60,"v":757.54},{"d":10.64,"v":757.55},{"d":10.66,"v":757.30},{"d":10.68,"v":757.55},{"d":10.70,"v":757.32},{"d":10.72,"v":757.55},{"d":10.74,"v":757.40},{"d":10.76,"v":757.55},{"d":10.78,"v":757.35},{"d":10.80,"v":757.55},{"d":10.82,"v":757.40},{"d":10.84,"v":757.55},{"d":10.86,"v":757.30},{"d":10.88,"v":757.50},{"d":10.90,"v":757.25},{"d":10.92,"v":757.55},{"d":10.94,"v":757.20},{"d":10.96,"v":757.58},{"d":10.98,"v":757.30},{"d":11.00,"v":757.60},{"d":11.02,"v":757.45},{"d":11.04,"v":757.55},{"d":11.06,"v":757.85},{"d":11.08,"v":757.50},{"d":11.10,"v":757.88},{"d":11.12,"v":757.55},{"d":11.14,"v":757.70},{"d":11.16,"v":757.50},{"d":11.18,"v":757.75},{"d":11.20,"v":757.55},{"d":11.22,"v":757.65},{"d":11.24,"v":757.50},{"d":11.26,"v":757.88},{"d":11.28,"v":757.45},{"d":11.30,"v":757.85},{"d":11.32,"v":757.55},{"d":11.35,"v":757.50},{"d":11.38,"v":757.58},{"d":11.41,"v":757.48},{"d":11.44,"v":757.55},{"d":11.47,"v":757.50},{"d":11.50,"v":757.45},{"d":11.52,"v":757.30},{"d":11.55,"v":757.07},{"d":11.57,"v":757.40},{"d":11.60,"v":757.50},{"d":11.63,"v":757.45},{"d":11.66,"v":757.55},
      {"d":11.70,"v":757.95},{"d":11.72,"v":757.50},{"d":11.74,"v":757.98},{"d":11.76,"v":757.55},{"d":11.78,"v":757.95},{"d":11.80,"v":757.50},{"d":11.82,"v":757.99},{"d":11.84,"v":757.58},{"d":11.86,"v":757.95},{"d":11.88,"v":757.52},{"d":11.90,"v":757.98},{"d":11.92,"v":757.60},{"d":11.94,"v":758.02},{"d":11.96,"v":757.55},{"d":11.98,"v":757.95},{"d":12.00,"v":757.60},{"d":12.02,"v":757.98},{"d":12.04,"v":757.55},{"d":12.06,"v":757.96},{"d":12.08,"v":757.62},{"d":12.10,"v":758.00},{"d":12.12,"v":757.55},{"d":12.14,"v":757.95},{"d":12.16,"v":757.60},{"d":12.18,"v":757.98},{"d":12.20,"v":757.55},{"d":12.22,"v":758.02},{"d":12.24,"v":757.58},{"d":12.26,"v":757.95},{"d":12.28,"v":757.55},{"d":12.30,"v":757.98},{"d":12.32,"v":757.60},{"d":12.34,"v":757.92},{"d":12.36,"v":757.55},{"d":12.38,"v":757.90},{"d":12.40,"v":757.50},{"d":12.43,"v":757.30},{"d":12.45,"v":757.00},{"d":12.47,"v":757.20},{"d":12.50,"v":757.50},{"d":12.53,"v":757.35},{"d":12.56,"v":757.55},{"d":12.60,"v":757.40},{"d":12.64,"v":757.55},{"d":12.68,"v":757.60},
      {"d":12.70,"v":758.00},{"d":12.72,"v":757.85},{"d":12.74,"v":758.02},{"d":12.76,"v":757.85},{"d":12.78,"v":757.98},{"d":12.80,"v":757.82},{"d":12.82,"v":758.00},{"d":12.84,"v":757.85},{"d":12.86,"v":757.98},{"d":12.88,"v":757.80},{"d":12.90,"v":757.95},{"d":12.92,"v":757.78},{"d":12.94,"v":757.95},
      {"d":12.96,"v":757.50},{"d":12.98,"v":757.88},{"d":13.00,"v":757.45},{"d":13.02,"v":757.85},{"d":13.04,"v":757.50},{"d":13.06,"v":757.82},{"d":13.08,"v":757.42},{"d":13.10,"v":757.85},{"d":13.12,"v":757.45},{"d":13.14,"v":757.80},{"d":13.16,"v":757.40},{"d":13.18,"v":757.78},{"d":13.20,"v":757.45},{"d":13.22,"v":757.75},{"d":13.24,"v":757.40},{"d":13.26,"v":757.72},{"d":13.28,"v":757.42},{"d":13.30,"v":757.70},{"d":13.32,"v":757.40},{"d":13.34,"v":757.65},{"d":13.36,"v":757.38},{"d":13.38,"v":757.62},{"d":13.40,"v":757.40},{"d":13.42,"v":757.55},{"d":13.44,"v":757.35},{"d":13.46,"v":757.50},{"d":13.48,"v":757.30},{"d":13.51,"v":757.40},{"d":13.55,"v":757.25},{"d":13.60,"v":757.20},{"d":13.64,"v":757.15},{"d":13.68,"v":757.08},{"d":13.74,"v":757.02},{"d":13.80,"v":757.00},{"d":13.86,"v":757.00},{"d":13.90,"v":757.05},{"d":13.94,"v":757.12},{"d":13.98,"v":757.15},{"d":14.02,"v":757.18},{"d":14.05,"v":757.20},
      {"d":14.07,"v":757.55},{"d":14.09,"v":757.05},{"d":14.11,"v":757.50},{"d":14.13,"v":757.10},{"d":14.15,"v":757.55},{"d":14.17,"v":757.05},{"d":14.19,"v":757.52},{"d":14.21,"v":757.15},{"d":14.23,"v":757.55},{"d":14.25,"v":757.08},{"d":14.27,"v":757.50},{"d":14.29,"v":757.20},{"d":14.31,"v":757.55},{"d":14.33,"v":757.05},{"d":14.35,"v":757.50},{"d":14.37,"v":757.10},{"d":14.39,"v":757.55},{"d":14.41,"v":757.15},{"d":14.43,"v":757.52},{"d":14.44,"v":757.20}
    ]
  },
  "columns": 2,
  "spacing": {"row": 42, "column": 80},
  "bounds": "flush",
  "align": "each",
  "concat": [
    {
      "title": {"text": "Sensor1", "dx": -38, "dy": -5},
      "width": 551, "height": 213,
      "data": {"name": "s1"},
      "mark": {"type": "line", "color": "#4a7ebb", "strokeWidth": 1.6},
      "encoding": {
        "x": {"field": "d", "type": "quantitative", "scale": {"domain": [0, 16], "range": [3, 551], "nice": false, "zero": false},
              "axis": {"values": [0, 2, 4, 6, 8, 10, 12, 14, 16], "labelExpr": "timeFormat(datetime(2013, 10, 26 + datum.value), '%Y/%-m/%-d %-H:%M')", "title": null}},
        "y": {"field": "v", "type": "quantitative", "scale": {"domain": [758.4, 760], "range": [213, 0], "nice": false, "zero": false},
              "axis": {"values": [758.4, 758.6, 758.8, 759, 759.2, 759.4, 759.6, 759.8, 760], "format": "~r", "offset": -3, "title": "Stress σ (Pa)", "titleX": -44, "titleY": 114}}
      }
    },
    {
      "title": {"text": "Sensor2", "dx": 30, "dy": 5},
      "width": 530, "height": 212,
      "data": {"name": "s2"},
      "mark": {"type": "line", "color": "#4a7ebb", "strokeWidth": 1.6},
      "encoding": {
        "x": {"field": "d", "type": "quantitative", "scale": {"domain": [0, 16], "range": [9, 530], "nice": false, "zero": false},
              "axis": {"values": [0, 2, 4, 6, 8, 10, 12, 14, 16], "labelExpr": "timeFormat(datetime(2013, 10, 26 + datum.value), '%Y/%-m/%-d %-H:%M')", "title": null}},
        "y": {"field": "v", "type": "quantitative", "scale": {"domain": [756.5, 759], "range": [212, 12], "nice": false, "zero": false},
              "axis": {"values": [756.5, 757, 757.5, 758, 758.5, 759], "format": "~r", "offset": -9, "title": "Stress σ (Pa)", "titleX": -46, "titleY": 125}}
      }
    },
    {
      "title": {"text": "Sensor7", "dx": 26, "dy": -2},
      "width": 534, "height": 211,
      "data": {"name": "s7"},
      "mark": {"type": "line", "color": "#4a7ebb", "strokeWidth": 1.6},
      "encoding": {
        "x": {"field": "d", "type": "quantitative", "scale": {"domain": [0, 16], "range": [0, 534], "nice": false, "zero": false},
              "axis": {"values": [0, 2, 4, 6, 8, 10, 12, 14, 16], "labelExpr": "timeFormat(datetime(2013, 10, 26 + datum.value), '%Y/%-m/%-d %-H:%M')", "title": null}},
        "y": {"field": "v", "type": "quantitative", "scale": {"domain": [754.5, 757], "range": [211, 3], "nice": false, "zero": false},
              "axis": {"values": [754.5, 755, 755.5, 756, 756.5, 757], "format": "~r", "title": "Stress σ (Pa)", "titleX": -44, "titleY": 116}}
      }
    },
    {
      "title": {"text": "Sensor11", "dx": 29, "dy": -2},
      "width": 530, "height": 211,
      "data": {"name": "s11"},
      "mark": {"type": "line", "color": "#4a7ebb", "strokeWidth": 1.6},
      "encoding": {
        "x": {"field": "d", "type": "quantitative", "scale": {"domain": [0, 16], "range": [0, 530], "nice": false, "zero": false},
              "axis": {"values": [0, 2, 4, 6, 8, 10, 12, 14, 16], "labelExpr": "timeFormat(datetime(2013, 10, 26 + datum.value), '%Y/%-m/%-d %-H:%M')", "title": null}},
        "y": {"field": "v", "type": "quantitative", "scale": {"domain": [756, 759], "range": [211, 0], "nice": false, "zero": false},
              "axis": {"values": [756, 756.5, 757, 757.5, 758, 758.5, 759], "format": "~r", "title": "Stress σ (Pa)", "titleX": -41, "titleY": 91}}
      }
    }
  ],
  "config": {
    "view": {"stroke": null},
    "font": "Liberation Sans",
    "axis": {"domainColor": "#bfbfbf", "domainWidth": 1, "tickColor": "#bfbfbf", "gridColor": "#d9d9d9", "gridWidth": 1, "labelFont": "Liberation Sans", "labelFontWeight": "bold", "labelFontSize": 7.5, "labelColor": "#333333", "labelFlush": false, "titleFont": "Liberation Serif", "titleFontSize": 24, "titleFontWeight": "bold", "titleColor": "#000000"},
    "axisX": {"ticks": true, "tickSize": 3, "labelPadding": 3.5, "grid": false, "labelAngle": 0},
    "axisY": {"ticks": false, "labelPadding": 8, "grid": true, "titleAngle": 270, "titleBaseline": "middle", "titleAlign": "center"},
    "title": {"font": "Liberation Sans", "fontSize": 8.5, "fontWeight": "bold", "color": "#333333", "anchor": "middle", "frame": "group", "offset": 4}
  }
}
